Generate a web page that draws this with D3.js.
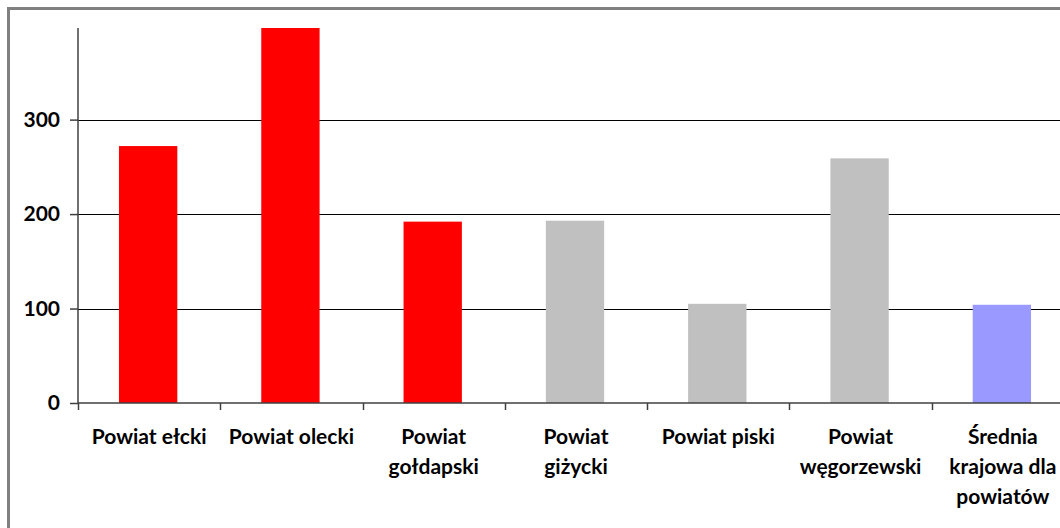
<!DOCTYPE html>
<html>
<head>
<meta charset="utf-8">
<script src="https://cdn.jsdelivr.net/npm/d3@7"></script>
<style>
  body { margin: 0; background: #fff; }
  svg { display: block; }
  .axis text { font-family: Lato, "Open Sans", sans-serif; font-weight: bold; font-size: 21px; fill: #000; }
</style>
</head>
<body>
<script>
// data
var categories = ['Powiat ełcki', 'Powiat olecki', 'Powiat gołdapski', 'Powiat giżycki', 'Powiat piski', 'Powiat węgorzewski', 'Średnia krajowa dla powiatów'];
var values = [272, 397, 192, 193, 105, 259, 104];
var colors = ['#ff0000', '#ff0000', '#ff0000', '#c0c0c0', '#c0c0c0', '#c0c0c0', '#9999ff'];
var yTicks = [0, 100, 200, 300];
// label lines as they wrap in the picture
var labelLines = [['Powiat ełcki'], ['Powiat olecki'], ['Powiat', 'gołdapski'], ['Powiat', 'giżycki'], ['Powiat piski'], ['Powiat', 'węgorzewski'], ['Średnia', 'krajowa dla', 'powiatów']];

var width = 1060, height = 528;
var margin = {left: 78, top: 28, right: -14, bottom: 125};
var w = width - margin.left - margin.right;
var h = height - margin.top - margin.bottom;

var svg = d3.select('body').append('svg')
    .attr('width', width)
    .attr('height', height);

// outer frame
svg.append('rect')
    .attr('x', 8.5).attr('y', 8.5)
    .attr('width', width + 20).attr('height', height + 20)
    .attr('fill', 'none')
    .attr('stroke', '#808080')
    .attr('stroke-width', 3);

var chartGroup = svg.append('g')
    .attr('transform', 'translate(' + margin.left + ',' + margin.top + ')');

var x = d3.scaleBand()
    .domain(categories)
    .range([0, w])
    .paddingInner(0.59)
    .paddingOuter(0.295);

var y = d3.scaleLinear()
    .domain([0, 397])
    .range([h, 0]);

// gridlines
chartGroup.append('g')
    .selectAll('line')
    .data(yTicks.filter(function(d){ return d > 0; }))
    .enter().append('line')
    .attr('x1', 0).attr('x2', w)
    .attr('y1', function(d){ return Math.round(y(d)) + 0.5; })
    .attr('y2', function(d){ return Math.round(y(d)) + 0.5; })
    .attr('stroke', '#000')
    .attr('stroke-width', 1.2);

// bars
chartGroup.selectAll('rect.bar')
    .data(values)
    .enter().append('rect')
    .attr('class', 'bar')
    .attr('x', function(d, i){ return x(categories[i]) - 1; })
    .attr('width', x.bandwidth())
    .attr('y', function(d){ return y(d); })
    .attr('height', function(d){ return h - y(d); })
    .attr('fill', function(d, i){ return colors[i]; });

// y axis
var yAxis = d3.axisLeft(y).tickValues(yTicks).tickSize(8).tickPadding(10);
var yG = chartGroup.append('g')
    .attr('class', 'axis y')
    .call(yAxis);
yG.select('.domain').attr('stroke', '#404040').attr('stroke-width', 1.5).attr('d', 'M0,0V' + h);
yG.selectAll('.tick line').attr('stroke', '#404040').attr('stroke-width', 1.5);

// x axis with ticks between categories
var xG = chartGroup.append('g')
    .attr('class', 'axis x')
    .attr('transform', 'translate(0,' + h + ')');
xG.append('line')
    .attr('x1', 0).attr('x2', w)
    .attr('stroke', '#404040').attr('stroke-width', 1.5);
var step = x.step();
xG.selectAll('line.tk')
    .data(d3.range(categories.length + 1))
    .enter().append('line')
    .attr('class', 'tk')
    .attr('x1', function(i){ return Math.round(i * step) + 0.5; })
    .attr('x2', function(i){ return Math.round(i * step) + 0.5; })
    .attr('y1', 0).attr('y2', 7)
    .attr('stroke', '#404040').attr('stroke-width', 1.5);

var labels = xG.selectAll('text.lbl')
    .data(categories)
    .enter().append('text')
    .attr('class', 'lbl')
    .attr('text-anchor', 'middle')
    .attr('transform', function(d){ return 'translate(' + (x(d) + x.bandwidth() / 2) + ',0)'; });
labels.each(function(d, i){
    var t = d3.select(this);
    labelLines[i].forEach(function(line, j){
        t.append('tspan')
            .attr('x', 0)
            .attr('y', 41 + j * 30)
            .text(line);
    });
});
</script>
</body>
</html>
